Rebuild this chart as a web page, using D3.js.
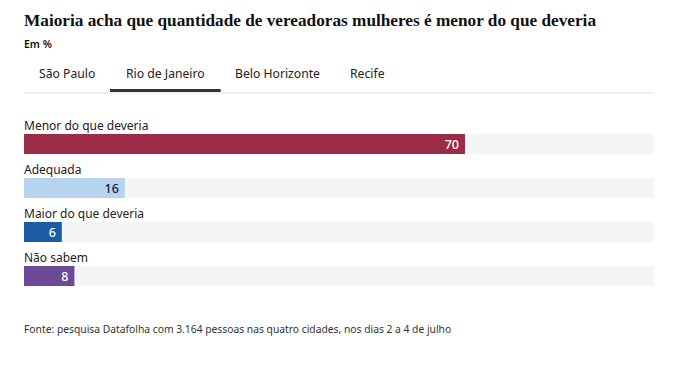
<!DOCTYPE html>
<html><head><meta charset="utf-8">
<script src="https://cdn.jsdelivr.net/npm/d3@7"></script>
<style>body{margin:0;background:#fff}</style>
</head><body><svg id="c" width="681" height="379"></svg>
<script>
const title = "Maioria acha que quantidade de vereadoras mulheres é menor do que deveria";
const subtitle = "Em %";
const tabs = ["São Paulo", "Rio de Janeiro", "Belo Horizonte", "Recife"];
const activeTab = "Rio de Janeiro";
const categories = ["Menor do que deveria", "Adequada", "Maior do que deveria", "Não sabem"];
const values = [70, 16, 6, 8];
const colors = ["#9c2b48", "#b6d4ef", "#1b5ba5", "#6d4895"];
const labelColors = ["#fff", "#1a1a3a", "#fff", "#fff"];
const source = "Fonte: pesquisa Datafolha com 3.164 pessoas nas quatro cidades, nos dias 2 a 4 de julho";

const svg = d3.select("#c");
const sans = "'Noto Sans', 'Open Sans', sans-serif";
svg.append("text").attr("x", 24).attr("y", 26).text(title)
  .attr("font-family", "'Liberation Serif', serif").attr("font-weight", "bold").attr("font-size", 16.5).attr("fill", "#111")
  .attr("textLength", 572).attr("lengthAdjust", "spacingAndGlyphs");
svg.append("text").attr("x", 24).attr("y", 48).text(subtitle)
  .attr("font-family", sans).attr("font-weight", 600).attr("font-size", 10.5).attr("fill", "#111");

// tabs
const tabX = [39, 126, 235, 350];
svg.append("line").attr("x1", 24).attr("x2", 654).attr("y1", 93).attr("y2", 93).attr("stroke", "#e2e2e2").attr("stroke-width", 1);
const tg = svg.selectAll("g.tab").data(tabs).join("g");
tg.append("text").attr("x", (d, i) => tabX[i]).attr("y", 78).text(d => d)
  .attr("font-family", sans).attr("font-size", 12.2).attr("fill", "#222");
tg.filter(d => d === activeTab).each(function(d, i) {
  const t = d3.select(this).select("text").node();
  const bb = t.getBBox();
  d3.select(this).append("rect").attr("x", bb.x - 16).attr("width", bb.width + 32).attr("y", 89).attr("height", 3).attr("fill", "#333");
});

const x = d3.scaleLinear().domain([0, 100]).range([24, 654]);
const y = d3.scaleBand().domain(categories).range([112, 288]).paddingInner(0).paddingOuter(0);
const rows = svg.selectAll("g.row").data(categories).join("g").attr("transform", d => `translate(0,${y(d)})`);
rows.append("text").attr("x", 24).attr("y", 18).text(d => d)
  .attr("font-family", sans).attr("font-size", 12).attr("fill", "#222");
rows.append("rect").attr("x", x(0)).attr("y", 22).attr("width", x(100) - x(0)).attr("height", 20).attr("fill", "#f5f5f5");
rows.append("rect").attr("x", x(0)).attr("y", 22).attr("width", (d, i) => x(values[i]) - x(0)).attr("height", 20).attr("fill", (d, i) => colors[i]);
rows.append("text").attr("x", (d, i) => x(values[i]) - 6).attr("y", 37).attr("text-anchor", "end")
  .text((d, i) => values[i]).attr("font-family", sans).attr("font-weight", 500).attr("font-size", 12.5)
  .attr("fill", (d, i) => labelColors[i]);

svg.append("text").attr("x", 24).attr("y", 333).text(source)
  .attr("font-family", sans).attr("font-size", 10.3).attr("fill", "#333");
</script></body></html>
